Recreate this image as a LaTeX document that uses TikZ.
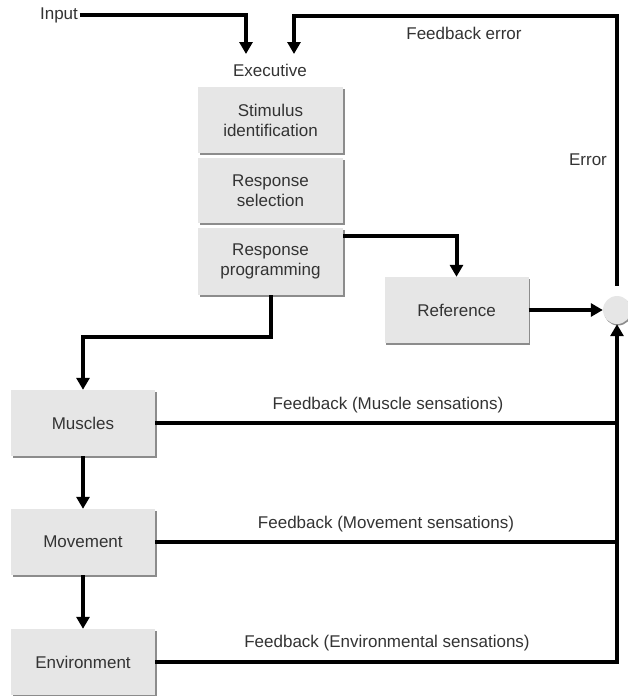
\documentclass[tikz,border=0pt]{standalone}
\usepackage{fontspec}
\setmainfont{Liberation Sans}
\usetikzlibrary{arrows.meta,shadows}
\definecolor{txt}{HTML}{333333}
\definecolor{boxfill}{HTML}{E6E6E6}
\tikzset{
  blk/.style={draw=none, fill=boxfill, minimum width=144pt, minimum height=66pt,
    inner sep=0pt, align=center, text=txt,
    drop shadow={shadow xshift=1.5pt, shadow yshift=-1.5pt, fill=black!45, opacity=1}},
  lbl/.style={text=txt, inner sep=0pt},
  wire/.style={line width=4pt, black},
  arr/.style={wire, -{Triangle[length=12pt,width=13pt]}},
}
\begin{document}
\begin{tikzpicture}[x=1pt,y=-1pt,font=\fontsize{17}{20}\selectfont]
\useasboundingbox (0,0) rectangle (627,696);
% boxes
\node[blk, minimum width=145pt] (stim) at (270.5,120) {Stimulus\\identification};
\node[blk, minimum width=145pt, minimum height=65pt] (sel) at (270.5,190.5) {Response\\selection};
\node[blk, minimum width=145pt, minimum height=67pt] (prog) at (270.5,261.5) {Response\\programming};
\node[blk] (ref) at (456.5,310) {Reference};
\node[blk] (mus) at (83,423) {Muscles};
\node[blk] (mov) at (83,542) {Movement};
\node[blk] (env) at (83,662) {Environment};
\node[circle, fill=boxfill, minimum size=28pt, inner sep=0pt,
  drop shadow={shadow xshift=1pt, shadow yshift=-1.5pt, fill=black!45, opacity=1}] (circ) at (617,310) {};
% labels
\node[lbl] (input) at (59,15) {Input};
\node[lbl] (exec) at (270,70) {Executive};
\node[lbl] (fberr) at (464,33) {Feedback error};
\node[lbl] (err) at (588,160) {Error};
\node[lbl] (fb1) at (388,405) {Feedback (Muscle sensations)};
\node[lbl] (fb2) at (386,524) {Feedback (Movement sensations)};
\node[lbl] (fb3) at (387,643) {Feedback (Environmental sensations)};
% coordinates
\coordinate (inbend) at (246,15);
\coordinate (intip) at (246,54);
\coordinate (errout) at ([yshift=10pt]circ.north);
\coordinate (errtop) at (617,16);
\coordinate (errbend) at (294,16);
\coordinate (errtip) at (294,54);
\coordinate (progout) at ([yshift=25.5pt]prog.east);
\coordinate (bend) at (270.5,337);
\coordinate (j1) at (617,423);
\coordinate (j2) at (617,542);
% connectors
\draw[arr] ([xshift=1.5pt]input.east) -- (inbend) -- (intip);
\draw[arr] (errout) -- (errtop) -- (errbend) -- (errtip);
\draw[arr] (progout) -| (ref.north);
\draw[arr] (ref.east) -- (circ.west);
\draw[arr] (prog.south) -- (bend) -| (mus.north);
\draw[arr] (mus.south) -- (mov.north);
\draw[arr] (mov.south) -- (env.north);
\draw[wire] (mus.east) -- (j1);
\draw[wire] (mov.east) -- (j2);
\draw[arr] (env.east) -| (circ.south);
\end{tikzpicture}
\end{document}
